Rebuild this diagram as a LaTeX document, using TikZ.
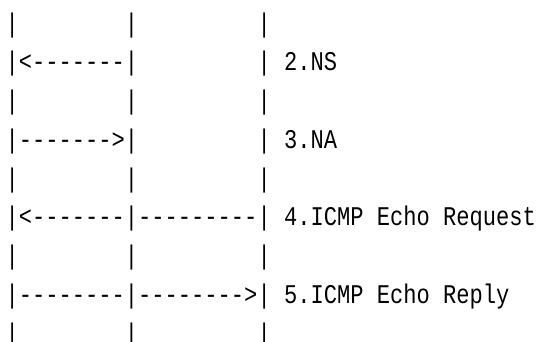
\documentclass[tikz,border=0pt]{standalone}
\usepackage{fontspec}
\newfontfamily\monoline[FakeStretch=0.818,Ligatures=TeXOff]{Liberation Mono}
\newcommand\asciifont{\monoline\fontsize{27pt}{27pt}\selectfont}

\begin{document}
\begin{tikzpicture}[x=13.26pt,y=-38.8pt,
  every node/.style={font=\asciifont,anchor=base west,inner sep=0pt}]
  \useasboundingbox (-0.407,-0.825) rectangle (40.32,7.99);
  \clip (-0.407,-0.825) rectangle (40.32,7.99);
  % lifelines, one bar per row
  \foreach \r in {0,...,8}
    \foreach \c/\n in {0/a,9/b,19/c}
      \node (\n\r) at (\c,\r) {|};
  % messages
  \node (ns)  at (1,1) {<-------};
  \node (na)  at (1,3) {------->};
  \node (req1) at (1,5) {<-------};
  \node (req2) at (10,5) {---------};
  \node (rep1) at (1,7) {--------};
  \node (rep2) at (10,7) {-------->};
  % labels
  \node (ns-label)  at (21,1) {2.NS};
  \node (na-label)  at (21,3) {3.NA};
  \node (req-label) at (21,5) {4.ICMP Echo Request};
  \node (rep-label) at (21,7) {5.ICMP Echo Reply};
\end{tikzpicture}
\end{document}
